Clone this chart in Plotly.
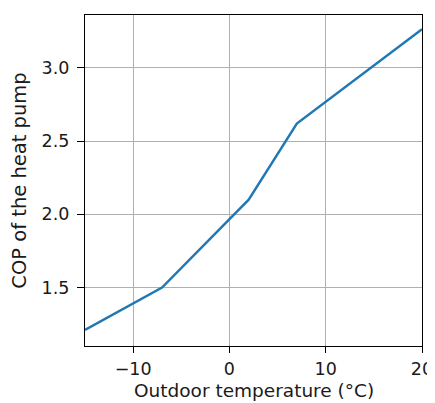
import plotly.graph_objects as go

temps = [-15, -7, 2, 7, 20]
cop = [1.21, 1.50, 2.10, 2.62, 3.265]
x_ticks = [-10, 0, 10, 20]
x_tick_labels = ["−10", "0", "10", "20"]
y_ticks = [1.5, 2.0, 2.5, 3.0]
y_tick_labels = ["1.5", "2.0", "2.5", "3.0"]
x_title = "Outdoor temperature (°C)"
y_title = "COP of the heat pump"

fig = go.Figure()
fig.add_trace(go.Scatter(x=temps, y=cop, mode="lines",
                         line=dict(color="#1f77b4", width=2.4)))

tick_font = dict(family="DejaVu Sans", size=17.5, color="#1a1a1a")
title_font = dict(family="DejaVu Sans", size=19.5, color="#1a1a1a")
xtitle_font = dict(family="DejaVu Sans", size=18.5, color="#1a1a1a")
axis_common = dict(showline=True, linecolor="black", linewidth=1.3, mirror=True,
                   ticks="outside", tickcolor="black", tickwidth=1.2,
                   showgrid=True, gridcolor="#b0b0b0", gridwidth=1.3,
                   zeroline=False, tickfont=tick_font, automargin=False)

fig.update_layout(
    width=435, height=403,
    margin=dict(l=77, r=21, t=6.5, b=65),
    paper_bgcolor="white", plot_bgcolor="white",
    showlegend=False,
    font=tick_font,
    xaxis=dict(range=[-15, 20], tickvals=x_ticks, ticktext=x_tick_labels,
               ticklen=6, ticklabelstandoff=1, **axis_common),
    yaxis=dict(range=[1.1, 3.362], tickvals=y_ticks, ticktext=y_tick_labels,
               ticklen=7, ticklabelstandoff=4,
               title=dict(text=y_title, font=title_font, standoff=12),
               **axis_common),
    annotations=[dict(text=x_title, xref="paper", yref="paper", x=0.5, y=0,
                      xanchor="center", yanchor="top", yshift=-33,
                      showarrow=False, font=xtitle_font, borderpad=0)],
)

fig.write_html("out.html")
